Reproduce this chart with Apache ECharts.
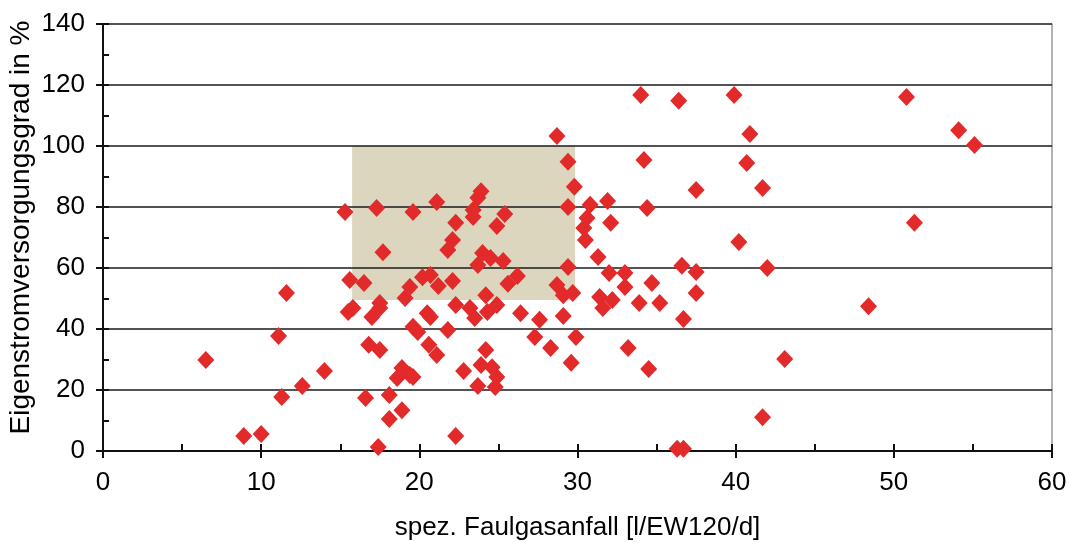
<!DOCTYPE html>
<html>
<head>
<meta charset="utf-8">
<script src="https://cdn.jsdelivr.net/npm/echarts@6/dist/echarts.min.js"></script>
<style>
  html, body { margin: 0; padding: 0; background: #fff; }
  #chart { width: 1070px; height: 542px; }
</style>
</head>
<body>
<div id="chart"></div>
<script>
// spez. Faulgasanfall [l/EW120/d]
const gasValues = [
  6.5, 8.9, 10.0, 11.1, 11.3, 11.6, 12.6, 14.0,
  15.6, 16.5, 19.4, 20.2, 20.7, 21.2, 22.1, 25.6, 26.2, 28.7, 29.1, 29.7,
  19.1, 17.5, 17.5, 15.8, 15.5, 17.0, 22.3, 23.2, 23.5, 24.2, 24.3, 24.9,
  26.4, 27.6, 29.1, 20.5, 20.7, 19.6, 19.9, 21.8, 27.3, 28.3, 29.9, 16.8,
  17.5, 20.6, 21.1, 24.2, 29.6, 18.9, 19.4, 18.6, 19.6, 22.8, 23.9, 24.6,
  24.9, 23.7, 24.8, 16.6, 18.1, 18.9, 18.1, 22.3, 17.4,
  28.7, 29.4, 29.8, 15.3, 17.3, 19.6, 21.1, 23.9, 23.7, 23.4, 23.4, 25.4,
  24.9, 22.3, 29.4, 30.6, 30.4, 30.5, 17.7, 22.1, 21.8, 24.0, 24.5, 23.7,
  25.3, 29.4,
  34.0, 36.4, 39.9, 40.9, 34.2, 40.7, 37.5, 41.7, 30.8, 31.9, 34.4, 32.1,
  31.3, 40.2, 32.0, 33.0, 36.6, 37.5, 42.0, 34.7, 33.0, 31.4, 32.2, 31.6,
  33.9, 35.2, 37.5, 36.7, 33.2, 34.5, 43.1, 41.7, 36.3, 36.7,
  50.8, 54.1, 55.1, 51.3, 48.4
];
// Eigenstromversorgungsgrad in %
const selfSupply = [
  29.8, 4.9, 5.6, 37.7, 17.7, 51.8, 21.3, 26.2,
  56.1, 55.1, 53.8, 57.0, 57.7, 54.1, 55.7, 54.8, 57.4, 54.4, 51.1, 51.8,
  50.2, 48.5, 46.9, 46.9, 45.6, 43.9, 47.9, 46.9, 43.6, 51.1, 45.6, 47.9,
  45.2, 43.0, 44.3, 45.2, 43.9, 40.7, 39.0, 39.7, 37.4, 33.8, 37.4, 34.8,
  33.1, 34.8, 31.5, 33.1, 28.9, 27.2, 24.9, 23.9, 24.3, 26.2, 28.2, 27.5,
  24.3, 21.3, 21.0, 17.4, 18.4, 13.4, 10.5, 4.9, 1.3,
  103.3, 94.8, 86.6, 78.4, 79.7, 78.4, 81.6, 85.2, 83.0, 79.0, 76.7, 77.7,
  73.8, 74.8, 80.0, 76.4, 73.1, 69.2, 65.2, 69.2, 65.9, 64.9, 63.3, 61.0,
  62.3, 60.3,
  116.7, 114.8, 116.7, 103.9, 95.4, 94.4, 85.6, 86.2, 80.7, 82.0, 79.7, 74.8,
  63.6, 68.5, 58.4, 58.4, 60.7, 58.7, 60.0, 55.1, 53.8, 50.5, 49.5, 46.9,
  48.5, 48.5, 51.8, 43.3, 33.8, 26.9, 30.2, 11.1, 0.7, 0.7,
  116.1, 105.2, 100.3, 74.8, 47.5
];
// target range (shaded box)
const boxX = [15.75, 29.85];
const boxY = [49.5, 100];

const xTicks = [0, 60, 10];
const yTicks = [0, 140, 20];

const points = gasValues.map((x, i) => [x, selfSupply[i]]);

const font = '"Liberation Sans", Arial, sans-serif';
const chart = echarts.init(document.getElementById('chart'));
chart.setOption({
  animation: false,
  backgroundColor: '#fff',
  grid: { left: 103, right: 18, top: 24, bottom: 91, outerBoundsMode: 'none', containLabel: false },
  xAxis: [{
    type: 'value', min: xTicks[0], max: xTicks[1], interval: xTicks[2],
    name: 'spez. Faulgasanfall [l/EW120/d]', nameLocation: 'middle', nameGap: 64,
    nameTextStyle: { fontFamily: font, fontSize: 26, color: '#000' },
    axisLine: { lineStyle: { color: '#111', width: 2 } },
    axisTick: { show: true, length: 7, inside: false, lineStyle: { color: '#111', width: 2 } },
    axisLabel: { fontFamily: font, fontSize: 26, color: '#000', margin: 19 },
    splitLine: { show: false }, z: 4
  }, {
    type: 'value', min: xTicks[0], max: xTicks[1], interval: 5, position: 'bottom',
    axisLine: { show: false },
    axisTick: { show: true, length: 7, inside: true, lineStyle: { color: '#111', width: 2 } },
    axisLabel: { show: false }, splitLine: { show: false }, z: 4
  }],
  yAxis: [{
    type: 'value', min: yTicks[0], max: yTicks[1], interval: yTicks[2],
    name: 'Eigenstromversorgungsgrad in %', nameLocation: 'middle', nameGap: 68,
    nameMoveOverlap: false,
    nameTextStyle: { fontFamily: font, fontSize: 28, color: '#000', padding: [0, 0, 0, 20] },
    axisLine: { show: true, lineStyle: { color: '#111', width: 2 } },
    axisTick: { show: true, length: 7, inside: false, lineStyle: { color: '#111', width: 2 } },
    axisLabel: { fontFamily: font, fontSize: 26, color: '#000', margin: 18 },
    splitLine: { show: true, lineStyle: { color: '#1a1a1a', width: 1.6 } },
    z: 4
  }, {
    type: 'value', min: yTicks[0], max: yTicks[1], interval: 10, position: 'left', offset: 0,
    axisLine: { show: false },
    axisTick: { show: true, length: 6, inside: true, lineStyle: { color: '#111', width: 2 } },
    axisLabel: { show: false }, splitLine: { show: false }, z: 4
  }, {
    type: 'value', min: yTicks[0], max: yTicks[1], position: 'right',
    axisLine: { show: true, lineStyle: { color: '#999', width: 1.5 } },
    axisTick: { show: false }, axisLabel: { show: false }, splitLine: { show: false }
  }],
  series: [{
    type: 'scatter', data: [], z: 1, silent: true,
    markArea: {
      silent: true,
      itemStyle: { color: '#ddd6bf', opacity: 1 },
      data: [[{ coord: [boxX[0], boxY[0]] }, { coord: [boxX[1], boxY[1]] }]]
    }
  }, {
    type: 'scatter', data: points, z: 6,
    symbol: 'diamond', symbolSize: [17, 18],
    itemStyle: { color: '#e32a2a', opacity: 1 }
  }]
});
</script>
</body>
</html>
